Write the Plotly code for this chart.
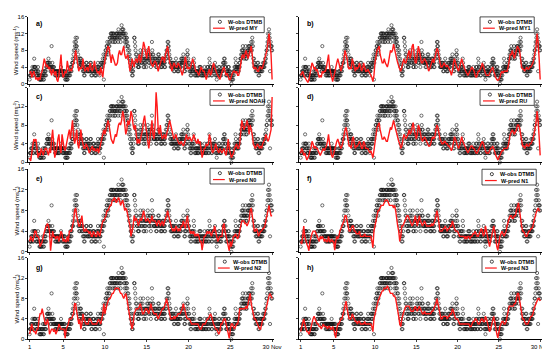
import plotly.graph_objects as go

# ---------------- data ----------------
# observed wind speed at DTMB, hourly, one row per day (Nov 1 .. Nov 30)
obs_dtmb = [
    [1,2,2,2,3,2,3,3,4,2,3,2,4,6,4,4,3,4,3,2,3,2,2,3],
    [4,3,2,2,1,2,1,1,2,1,2,1,2,2,3,1,2,1,3,2,3,2,3,2],
    [4,4,5,5,4,5,6,5,4,4,5,4,3,4,3,9,4,5,4,3,4,3,4,3],
    [3,2,3,2,3,2,3,3,2,3,2,3,2,3,2,3,3,3,4,3,3,3,2,3],
    [2,3,2,3,2,3,1,2,1,2,1,2,1,1,2,3,2,3,2,3,2,4,3,4],
    [3,4,5,5,6,5,7,8,6,10,9,8,11,10,9,9,11,8,6,7,5,5,4,6],
    [4,5,6,6,5,4,5,4,5,3,4,3,2,3,2,4,3,4,5,4,5,3,4,3],
    [4,3,4,3,4,3,5,4,5,2,3,2,3,3,4,4,3,4,3,2,3,2,3,2],
    [3,4,3,4,5,4,3,4,3,2,3,3,5,4,5,4,5,4,6,5,7,1,5,6],
    [6,7,8,8,7,9,9,10,8,7,8,9,10,9,11,11,10,12,12,11,12,11,12,10],
    [12,11,12,11,10,11,10,11,12,12,11,12,11,12,10,13,12,11,12,11,12,10,11,12],
    [14,13,12,13,12,13,12,11,12,10,11,9,12,10,11,11,10,9,8,9,7,6,8,7],
    [5,6,4,4,3,5,2,3,2,3,4,5,11,11,10,9,8,7,6,7,5,5,6,4],
    [4,5,4,6,5,7,8,6,7,5,6,5,7,6,8,4,5,4,6,5,6,5,6,4],
    [6,7,6,8,7,6,5,6,5,7,6,7,4,5,6,10,8,7,6,7,5,5,6,5],
    [6,5,6,4,5,4,5,6,5,7,6,7,6,5,6,5,4,5,4,5,4,6,5,6],
    [5,6,5,4,5,4,6,7,6,8,7,8,10,9,10,9,8,7,6,5,6,4,5,4],
    [4,5,4,5,4,5,3,4,3,4,5,4,6,5,4,4,3,4,3,4,3,5,4,5],
    [4,5,4,6,5,6,5,6,5,7,6,5,3,4,3,4,5,4,6,5,7,8,7,6],
    [5,4,5,3,4,3,2,3,2,4,3,4,3,4,3,6,5,4,2,3,2,3,2,3],
    [3,2,3,2,3,2,3,4,3,4,3,4,2,3,2,3,2,3,2,3,2,3,4,3],
    [2,3,2,3,2,3,4,3,4,2,3,2,6,5,4,3,4,3,2,3,2,4,3,4],
    [3,4,3,4,5,4,2,3,2,1,2,3,3,2,3,4,3,4,2,3,2,3,2,3],
    [3,4,3,5,4,5,6,5,6,4,5,4,2,3,2,3,2,3,4,3,4,3,2,3],
    [2,1,2,0,1,2,1,2,1,3,2,3,4,3,4,6,5,4,3,4,3,4,3,4],
    [3,4,5,4,5,6,6,7,6,8,7,8,9,8,7,7,6,7,8,7,9,6,7,6],
    [7,8,7,8,9,8,9,8,9,8,7,8,10,9,8,11,10,9,6,5,6,4,5,4],
    [4,3,4,3,4,3,5,4,5,2,3,2,3,4,3,4,3,4,3,4,3,4,5,4],
    [4,5,4,5,6,5,6,7,8,8,9,10,12,11,10,13,12,11,3,9,10,9,8,9],
    [8],
]

# model predictions, 3-hourly, one row per day
pred_my = [
    [2.5,3,1.5,2.5,3,2,1,1.5],[0.8,1.5,1,2.5,3,4.5,6,5],[4,4.5,3.5,4,3,2,3.5,3],[2,3,1,0.5,2,4,7,3],
    [1.5,2,3,2.5,5.5,4,3,3.5],[3,4,5,6,8,6,4.5,3],[4,3.5,4,6,4,3,3.5,4],[3,4.5,5,3.5,3,4,5.5,4],
    [3,2.5,3,2,4,3,1.5,4],[6,7,8,9,8.5,6,5,7],[6,5,4.5,4.5,5,7,8,7],[7,8,9,7,6,6.5,7,5],
    [3,4,6,5,4,5.5,6,5],[6,7,5,6,8,10,9,7],[6,8,9,7,5,4.5,4,5],[5.5,5,4,3,4,5,6,6.5],
    [6,5,7,8,9,7,5,4.5],[3,4,5,4.5,4,4,5,4.5],[4,3,2,3,5,6.5,5,3.5],[4,3.5,4,5,6,5,4,3],
    [3,2.5,2,3,4,3.5,3,3],[2,1,2,3,3.5,2,2.5,4],[5,4,3,2.5,2,1.5,1,2],[3,3.5,4,3,2,2.5,1.5,1],
    [1,2,2.5,3,3,2.5,3,2],[2,3,5,6.5,7,6,7,8],[7,6,7,8,9,7,4,3.5],[4,3.5,3,3,4,4,3.5,4],
    [5,6,7,8,10,12,10,7],[1],
]

pred_my1 = [
    [2,2.5,3,2,1.5,1,0.5,0.3],[1,2,3.5,5,4.5,3.5,4,3],[3.5,2.5,1.5,2,1.5,3,2.5,3],[3,4,5.5,7,4,2.5,2,0.5],
    [1.5,3,4,5,6,4.5,4,3],[4,5,6,8,7,6,4,3.5],[4,3.5,6,5,4,3,4,3.5],[4,5,4,3,3.5,5,4,3],
    [3,3.5,3,2.5,2,1.5,0.5,2],[5,7,8,8.5,9,7,5.5,5],[5,6,5,4.5,4,5,6.5,8],[7.5,8,9.5,8,7,6,5,4],
    [3.5,3,4,5.5,6,5,5,6],[7,8,6,7,9,9.5,7,5],[5,7,9,8,6,5,5,5.5],[6,5.5,5,4,3,3.5,4.5,5.5],
    [6,5,6,7.5,8.5,8,6,5],[4,4,4.5,5,4.5,4,4.5,4],[3.5,3,2,3,5,6,5,4],[3.5,3,4,5,6,5,4,3.5],
    [3,2.5,2,2.5,3,3.5,4,3.5],[3,2,1.5,2,3,3,3.5,4],[5,4,3,2.5,2,2,2,2.5],[3,3.5,4,3,2,1.5,1,0.8],
    [1,1.5,2.5,3,2.5,3,3,3],[3,4,6,7,7,8,7,6],[7,8,9,8.5,8,6,4,3.5],[3.5,3,3.5,4,3.5,3.5,4,4],
    [4.5,5,6,7.5,9,12,10,6],[1],
]

pred_noah = [
    [1,0.3,2,4,5,4.5,5,3],[1,2,1.5,3,2,1.5,2.5,3],[3,2,1.5,3,2,5,7,4],[1,2,3,5,6,3,2,6],
    [4,3,2.5,4,5,6,7,5],[7,9,6,4,5,7,4,3],[5,7,5,4,3,3,4,3.5],[3,2,2.5,3,3.5,2.5,3,2.5],
    [2.5,3,2,3,4,5,6,7],[6,7,8,9,8,6,5,4.5],[4,5,6,5.5,7,8,8.5,8],[9,11,10,7,6,7,9,8],
    [9,11,10,8,7,8,6,4],[5,4,5,6,7,9,10,8],[6,4,3,5,7,9,6,5],[8,15,12,7,6,8,6,5],
    [5.5,6,5,6,7,8,9,8],[7,6,5,5.5,6,5,4.5,4],[4,4.5,4,3.5,4,5,6,5],[5,5.5,5,4.5,5,6,5,4.5],
    [4,5,4,4.5,3,1,2,3],[3,4,3.5,4,6,5,3,2],[2.5,3,4,3,2.5,2,3,2.5],[2,2.5,3,2,1.5,3,5,3],
    [2,1,1.5,2,3,3.5,4,3],[3,4,7,9,8,7,7.5,8],[9,8,6,8,7,6,4,3.5],[3,3.5,4,3.5,3,3.5,3,4],
    [4.5,5,6,5,4.5,5,6,7],[14],
]

pred_ru = [
    [2,3,2.5,1.5,2,1,0.5,1],[1.5,2.5,3,4.5,4,3,3.5,3],[3,2.5,2,1.5,2,2.5,3,2.5],[3,3.5,4.5,6,4,2.5,1.5,1],
    [2,3,3.5,4.5,5,4,3.5,3],[3.5,4.5,6,7,7.5,6,4.5,3.5],[3.5,3,5,5.5,4,3,3.5,3.5],[4,4.5,4,3,3,4.5,4,3],
    [3,3,2.5,2,2.5,1.5,1,2.5],[4.5,6,7.5,8,8.5,7,6,5],[5,5.5,5,4.5,4.5,5.5,7,7.5],[7,8,9,8,7,6,5,4.5],
    [4,3,3.5,5,6,5.5,5,5.5],[6,7,6,6.5,8,8.5,7,5.5],[5,6,8,7.5,6,5,4.5,5],[5.5,5,4.5,4,3.5,3.5,4,5],
    [5.5,5,5.5,7,8,7.5,6,5],[4.5,4,4,4.5,4.5,4,4,3.5],[3.5,3,2.5,3,4.5,5.5,5,4],[3.5,3,3.5,4.5,5.5,4.5,4,3.5],
    [3,2.5,2,2.5,3,3.5,3.5,3],[3,2.5,2,2,2.5,3,3.5,4],[4.5,4,3,2.5,2,2,2,2.5],[3,3,3.5,3,2,1.5,1,0.5],
    [1,1.5,2,2.5,2.5,3,3,3],[3,3.5,5,6,6.5,7,6.5,6],[6.5,7,8,8,7.5,6,4.5,3.5],[3.5,3,3.5,4,3.5,3.5,4,4],
    [4.5,5,6,7,8.5,11,9,5.5],[1.5],
]

pred_n0 = [
    [2,3,2.5,2,3,4,4,3],[3,2.5,1,1.5,2,3,4,4.5],[5,5.5,5,4,0.2,3,4,3],[3,2.5,3,3,2,3,4,3.5],
    [2,2.5,2,2,3,2,4,4],[4,5,6,8,8.5,7,6,5],[5,6,7,5,4,4,4.5,4],[4,3.5,4,3,3,4,3.5,3],
    [3,4,3.5,3,4,5,6,6],[6.5,7,8,8,8.5,9,9,10],[10,10.5,10,9.5,10,10.5,10,9],[9.5,10,9,8,8.5,8,7,6],
    [5,3,4,5,7,6,6.5,6],[5,6,6.5,6,7,8,7,6],[6,6.5,6,5.5,6,7,6,6],[6,5.5,5,6,6,5,5.5,6],
    [5,6,6.5,7,8,7,6,5],[4.5,4,4.5,4,5,4.5,4,4.5],[4,5,5,6,5,4.5,6,7],[5,4,3.5,4,3.5,4,3,3.5],
    [3,3.5,3,2,2,0.3,2,3],[3,3.5,4,3.5,4,3.5,3,4],[4,5,4,3,2,2.5,3,3],[3,5,5.5,4,3,2,1,0.2],
    [2,1,2,3,3,3.5,3,2.5],[3,4,5,6,6,6,5.5,5.5],[5,5.5,6,8,8.5,7,5,4],[4,4.5,4,3,3.5,4,4,4.5],
    [4.5,5,6,7,8,9,8,7],[7],
]

pred_n1 = [
    [2,1.5,3,5,3,2,1.5,1],[0.2,2,3,3.5,4,4,4,3.5],[3,2.5,2,3,2.5,3,2.5,2],[2.5,2,2,3,2,2,2.5,2],
    [2,0.3,2,3,2.5,3,4,4.5],[5,5.5,6,7,7,6,5,4],[4,4.5,5,5,4,4,3.5,3.5],[3.5,4,3,3,3,3,3.5,3],
    [3,3,3,3,3,2,0.8,4],[5,6,7,8,8,8.5,9,9],[9,9.5,10,10,10,9.5,9,9],[9,9,8.5,9,8,6,5,4],
    [2,3,5,5,5.5,6,6.5,7],[7,6.5,6,5.5,5,5.5,6,7],[6,5,6,7,6,5.5,5,5.5],[6,5.5,5,5,5,5,5,5.5],
    [5,5.5,6,7,8,7,5,4],[4,4,4.5,4.5,5,4.5,4,4.5],[4.5,5,5,6,5,4.5,4,4],[4,3.5,3,3,3,3,3,2.5],
    [3,2.5,3,3,2.5,3,3,3.5],[3.5,4,3.5,3,3,3.5,4,4.5],[4,3,3.5,5,4,3,2,1],[2,3,4,5,4,2,1,0.3],
    [2,3,3.5,4,3.5,3,3.5,4],[5,6,6.5,7,7,6.5,6.5,7],[7,8,9,9.5,8,6,5,4],[4,3.5,3,3,3.5,4,4,4.5],
    [4.5,5,6,7,7.5,8,8.5,8],[8],
]

pred_n2 = [
    [1,2,3,2,1.5,1.5,1,2],[2,4,5,5,6,5,4,3],[3,4,3,1,1.5,2,2,1.5],[2,1,1.5,2,3,2.5,2,2],
    [2,2,0.2,2,2.5,3,4,4],[4,4.5,5,7,7,5.5,4,3],[4,2,3,5,4,3.5,3,3],[3,4,4,3.5,3,3,3,3],
    [3,3.5,4,3.5,3,4,5,7],[5,6,7,7.5,8,8,8.5,9],[9,9.5,10,10,10,10,9.5,9],[9,8.5,8,8.5,9,8,6.5,5],
    [4,3,2,3,5,5.5,6,6],[6,6.5,7,6,5,5,5.5,6],[6,5.5,5,6,7,6,5.5,5],[5,5,4.5,4,4.5,5,5.5,6],
    [6,6.5,7,8,7,6,5,4],[4,4,4.5,4,4.5,4.5,5,5],[5,5.5,6,7,6,5,4.5,4],[4,4,3.5,3,3,3,3,3],
    [3,3,2.5,2,2,2.5,3,3],[3,3.5,4,4,4.5,5,4.5,3.5],[3,2.5,2,2,1.5,1,1.5,3],[3,3.5,4,4,3,2,1,0.2],
    [2,3,3,2.5,2,2.5,3,3],[4,6,6,6,6,6,6,6.5],[6,7,8,9,7,6,4.5,4],[4,3.5,3,2.5,2,2,3,4],
    [4,5,6,7,8,8.5,9,8.5],[8],
]

pred_n3 = [
    [1.5,2.5,3,4,3,2,1.5,1.5],[1,1.5,2.5,3.5,4,4.5,4,3.5],[3,3,2.5,2.5,2,2.5,3,2.5],[2.5,2.5,2,2.5,2.5,2,2,2.5],
    [2,1,0.3,2,3,3,3.5,4],[4,5,6,7,7.5,6,5,4],[4,4,5,4.5,4,3.5,3.5,3],[3.5,3.5,3,3,3,3,3.5,3],
    [3,3,3,3,3,2.5,1.5,4],[5,6,7,7.5,8,8.5,9,9.5],[9.5,10,10,10,10.5,10,9.5,9],[9,9,8.5,8.5,8,7,5.5,4.5],
    [3,2.5,4,5,5.5,6,6.5,6.5],[6.5,6.5,6,5.5,5.5,5.5,6,6.5],[6,5.5,6,6.5,6,5.5,5,5],[5.5,5,5,5,5,5,5,5.5],
    [5.5,6,6.5,7,8,7,5.5,4.5],[4,4,4.5,4.5,4.5,4.5,4,4.5],[4.5,5,5,6,5.5,4.5,4,4],[4,3.5,3,3,3,3,3,3],
    [3,3,3,3,2.5,2.5,3,3.5],[3.5,4,4,3.5,3,3,3.5,4],[4,3.5,3.5,4.5,4,3,2,1.5],[2,3,4,4.5,3.5,2,1,0.3],
    [2,2.5,3,3.5,3.5,3,3,3.5],[4.5,6,6.5,6.5,6.5,6.5,6.5,7],[7,8,9,9,7.5,6,5,4],[4,3.5,3,3,3,3.5,4,4.5],
    [4.5,5,6,6.5,7,7.5,8,8],[7.5],
]

x_tick_vals = [1, 5, 10, 15, 20, 25, 30]
x_tick_text = ["1", "5", "10", "15", "20", "25", "30 Nov"]
y_tick_vals = [0, 4, 8, 12, 16]
y_tick_text = ["0", "4", "8", "12", "16"]
panel_letters = ["a)", "b)", "c)", "d)", "e)", "f)", "g)", "h)"]
model_names = ["MY", "MY1", "NOAH", "RU", "N0", "N1", "N2", "N3"]
pred_series = [pred_my, pred_my1, pred_noah, pred_ru, pred_n0, pred_n1, pred_n2, pred_n3]


def flatten(rows, per_day):
    vals = [v for r in rows for v in r]
    days = [1 + i / per_day for i in range(len(vals))]
    return days, vals


# ---------------- layout geometry (pixels) ----------------
W, H = 550, 351
col_px = [(20.7, 269.7), (295.7, 541.7)]
row_px = [(6, 74), (78, 154), (161, 245), (251, 334)]
legend_pos = [(205, 6), (479, 6), (205, 80), (479, 80), (205, 160), (481, 161), (210, 250), (481, 250)]
label_pos = [(26, 13), (301, 13), (26, 88), (301, 88), (26, 171), (301, 171), (26, 261), (301, 261)]


def px(x):
    return x / W


def py(y):
    return 1 - y / H


FONT = "Liberation Sans, Arial, sans-serif"
fig = go.Figure()
layout = dict(width=W, height=H, margin=dict(l=0, r=0, t=0, b=0),
              paper_bgcolor="white", plot_bgcolor="white", showlegend=False,
              font=dict(family=FONT, size=6, color="black"))
shapes, annotations = [], []

obs_x, obs_y = flatten(obs_dtmb, 24)

for k in range(8):
    row, col = k // 2, k % 2
    ax = "" if k == 0 else str(k + 1)
    xa, ya = "x" + ax, "y" + ax
    fig.add_trace(go.Scatter(x=obs_x, y=obs_y, mode="markers", xaxis=xa, yaxis=ya,
                             marker=dict(symbol="circle-open", size=3.2, color="#111111",
                                         line=dict(width=0.6, color="#111111")),
                             cliponaxis=False))
    pxs, pys = flatten(pred_series[k], 8)
    fig.add_trace(go.Scatter(x=pxs, y=pys, mode="lines", xaxis=xa, yaxis=ya,
                             line=dict(color="#ff1a1a", width=1.4), cliponaxis=False))
    x0, x1 = col_px[col]
    y0, y1 = row_px[row]
    layout["xaxis" + ax] = dict(domain=[px(x0), px(x1)], range=[0.85, 30.2], anchor=ya,
                                tickvals=x_tick_vals, ticktext=x_tick_text,
                                showticklabels=(row == 3), ticks="outside", ticklen=2,
                                tickwidth=0.7, showline=True, linecolor="black", linewidth=0.8,
                                showgrid=False, zeroline=False, tickfont=dict(size=6))
    ytext = list(y_tick_text)
    if row == 1:
        ytext[-1] = " "
    layout["yaxis" + ax] = dict(domain=[py(y1), py(y0)], range=[0, 16], anchor=xa,
                                tickvals=y_tick_vals, ticktext=ytext, showticklabels=(col == 0),
                                ticks="outside", ticklen=2, tickwidth=0.7, showline=True,
                                linecolor="black", linewidth=0.8, showgrid=False,
                                zeroline=False, tickfont=dict(size=6))
    lx, ly = label_pos[k]
    annotations.append(dict(x=px(lx), y=py(ly), xref="paper", yref="paper",
                            text="<b>" + panel_letters[k] + "</b>",
                            showarrow=False, xanchor="left", yanchor="middle", font=dict(size=7)))
    if col == 0:
        annotations.append(dict(x=px(8), y=py((y0 + y1) / 2), xref="paper", yref="paper",
                                text="Wind speed (ms<sup>-1</sup>)", textangle=-90, showarrow=False,
                                xanchor="center", yanchor="middle", font=dict(size=6)))
    lgx, lgy = legend_pos[k]
    shapes.append(dict(type="rect", xref="paper", yref="paper", x0=px(lgx), x1=px(lgx + 55),
                       y0=py(lgy + 16), y1=py(lgy), line=dict(color="black", width=0.7),
                       fillcolor="white", layer="above"))
    shapes.append(dict(type="circle", xref="paper", yref="paper", x0=px(lgx + 8.4), x1=px(lgx + 11.6),
                       y0=py(lgy + 6.6), y1=py(lgy + 3.4), line=dict(color="black", width=0.7), layer="above"))
    shapes.append(dict(type="line", xref="paper", yref="paper", x0=px(lgx + 3), x1=px(lgx + 15),
                       y0=py(lgy + 11.5), y1=py(lgy + 11.5), line=dict(color="#ff1a1a", width=1.2),
                       layer="above"))
    annotations.append(dict(x=px(lgx + 16), y=py(lgy + 5), xref="paper", yref="paper",
                            text="<b>W-obs DTMB</b>", showarrow=False, xanchor="left", yanchor="middle",
                            font=dict(size=5.5)))
    annotations.append(dict(x=px(lgx + 17), y=py(lgy + 11.5), xref="paper", yref="paper",
                            text="<b>W-pred " + model_names[k] + "</b>", showarrow=False, xanchor="left",
                            yanchor="middle", font=dict(size=5.5)))

layout["shapes"] = shapes
layout["annotations"] = annotations
fig.update_layout(**layout)
fig.write_html("out.html")
